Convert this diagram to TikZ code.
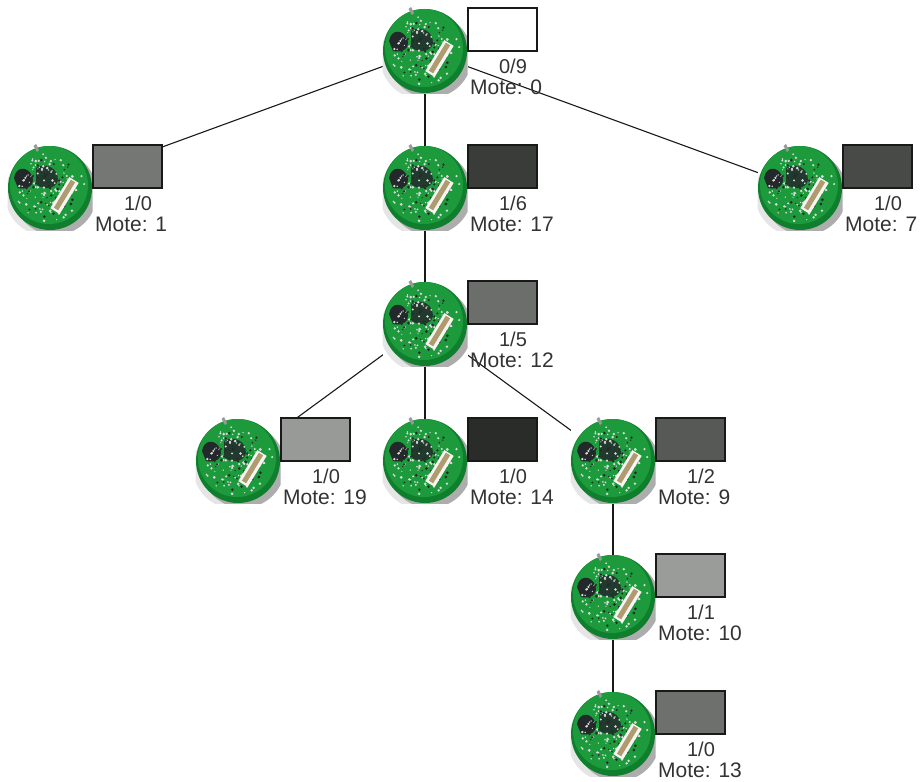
\documentclass[tikz,border=0pt]{standalone}
\usepackage{xcolor}
\usepackage{fontspec}
\setmainfont{Liberation Sans}
\usepackage{tikz}
\usetikzlibrary{backgrounds}
\definecolor{boardgreen}{HTML}{1C9A3C}
\definecolor{rimgreen}{HTML}{0F7F2E}
\definecolor{chipdark}{HTML}{23282A}
\definecolor{plugtan}{HTML}{B09A70}
\tikzset{
  motebase/.style={minimum width=85pt,minimum height=85pt,inner sep=0pt,outer sep=0pt,fill=white},
  loadbox/.style={draw=black!90,line width=1.3pt,minimum width=69pt,minimum height=43pt,inner sep=0pt,outer sep=0pt,anchor=north west},
  loadtext/.style={font=\fontsize{20}{20}\selectfont,inner sep=0pt,anchor=center,text=black!80},
  motetext/.style={font=\fontsize{21}{21}\selectfont,inner sep=0pt,anchor=west,text=black!80},
  link/.style={draw=black!90,line width=1.1pt},
  motepic/.pic={
    \begin{scope}
      \clip (-42.5,-42.5) rectangle (42.5,42.5);
      \fill[black!10] (-3,6) circle (42);
      \fill[black!32] (5,5) circle (42);
    \end{scope}
    \fill[rimgreen] (0,0) circle (42);
    \fill[boardgreen] (-1,-3) circle (39);
    \fill[black!40] (-16.5,-42) -- (-13,-36) -- (-11,-38) -- (-14,-44) -- cycle;
    \fill[chipdark] (-36,-10) .. controls (-34,-22) and (-22,-22) .. (-18,-12) .. controls (-14,-2) and (-24,2) .. (-32,0) -- cycle;
    \fill[chipdark!85!boardgreen] (-14,-20) .. controls (-4,-26) and (8,-20) .. (8,-8) .. controls (6,2) and (-8,2) .. (-14,-4) -- cycle;
    \pgfmathsetseed{41}
    \foreach \i in {1,...,110}{
      \pgfmathsetmacro{\dotang}{360*rnd}
      \pgfmathsetmacro{\dotrad}{35*sqrt(rnd)}
      \fill[white!85!black] (\dotang:\dotrad) circle (0.6+0.9*rnd);
    }
    \foreach \i in {1,...,45}{
      \pgfmathsetmacro{\dotang}{360*rnd}
      \pgfmathsetmacro{\dotrad}{30*sqrt(rnd)}
      \fill[chipdark] (\dotang:\dotrad) circle (0.6+0.9*rnd);
    }
    \draw[white!90!plugtan,line width=11pt] (24,-8) -- (5,23);
    \draw[plugtan,line width=5pt] (23,-7) -- (6,21);
  }
}
\begin{document}
\begin{tikzpicture}[x=1pt,y=-1pt]
  \useasboundingbox (0,0) rectangle (920,781);
  \foreach \id/\px/\py/\tone/\load in {
      0/468/8/FFFFFF/0\slash 9,
      1/93/145/747774/1\slash 0,
      17/468/145/3A3C3A/1\slash 6,
      7/843/145/484A48/1\slash 0,
      12/468/281/6C6E6C/1\slash 5,
      19/281/418/989A98/1\slash 0,
      14/468/418/2A2C2A/1\slash 0,
      9/656/418/575957/1\slash 2,
      10/656/554/9A9C9A/1\slash 1,
      13/656/691/6E706E/1\slash 0}{
    \definecolor{loadfill}{HTML}{\tone}
    \node[motebase] (mote\id) at (\px-43,\py+43) {};
    \pic at (mote\id) {motepic};
    \node[loadbox,fill=loadfill] (box\id) at (\px,\py) {};
    \node[loadtext] (load\id) at (\px+45,\py+58) {\load};
    \node[motetext] (name\id) at (\px+2,\py+79) {Mote: \id};
  }
  \begin{scope}[on background layer]
    \draw[link] (mote0.center) -- (mote1.center);
    \draw[link] (mote0.center) -- (mote17.center);
    \draw[link] (mote0.center) -- (mote7.center);
    \draw[link] (mote17.center) -- (mote12.center);
    \draw[link] (mote12.center) -- (mote19.center);
    \draw[link] (mote12.center) -- (mote14.center);
    \draw[link] (mote12.center) -- (mote9.center);
    \draw[link] (mote9.center) -- (mote10.center);
    \draw[link] (mote10.center) -- (mote13.center);
  \end{scope}
\end{tikzpicture}
\end{document}
